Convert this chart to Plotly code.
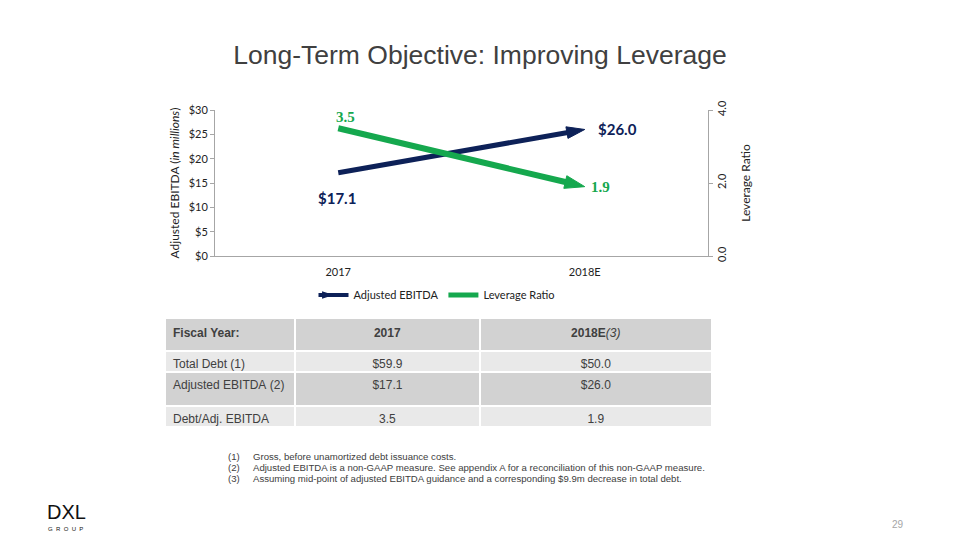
import plotly.graph_objects as go

# ---------------- data ----------------
categories = ["2017", "2018E"]
ebitda = [17.1, 26.0]
leverage = [3.5, 1.9]

table_header = ["Fiscal Year:", "2017", "2018E"]
row_labels = ["Total Debt (1)", "Adjusted EBITDA (2)", "Debt/Adj. EBITDA"]
col_2017 = ["$59.9", "$17.1", "3.5"]
col_2018 = ["$50.0", "$26.0", "1.9"]

footnote_nums = ["(1)", "(2)", "(3)"]
footnote_texts = [
    "Gross, before unamortized debt issuance costs.",
    "Adjusted EBITDA is a non-GAAP measure. See appendix A for a reconciliation of this non-GAAP measure.",
    "Assuming mid-point of adjusted EBITDA guidance and a corresponding $9.9m decrease in total debt.",
]

NAVY = "#0d2158"
GREEN = "#15a84e"
GREY_TXT = "#404040"
W, H = 960, 540

fig = go.Figure()

# main lines with arrowheads
fig.add_trace(go.Scatter(
    x=categories, y=ebitda, mode="lines+markers", yaxis="y",
    line=dict(color=NAVY, width=5),
    marker=dict(symbol=["circle", "arrow"], size=[0.1, 19], color=NAVY, opacity=1,
                angleref="previous", line=dict(width=1, color=NAVY)),
    showlegend=False, hoverinfo="skip", cliponaxis=False))
fig.add_trace(go.Scatter(
    x=categories, y=leverage, mode="lines+markers", yaxis="y2",
    line=dict(color=GREEN, width=6),
    marker=dict(symbol=["circle", "arrow"], size=[0.1, 21], color=GREEN, opacity=1,
                angleref="previous", line=dict(width=1, color=GREEN)),
    showlegend=False, hoverinfo="skip", cliponaxis=False))

# legend-only entries
fig.add_trace(go.Scatter(
    x=[None], y=[None], mode="lines+markers", name="Adjusted EBITDA",
    line=dict(color=NAVY, width=4),
    marker=dict(symbol="arrow", angle=90, size=12, color=NAVY)))
fig.add_trace(go.Scatter(
    x=[None], y=[None], mode="lines", name="Leverage Ratio",
    line=dict(color=GREEN, width=5)))

# data labels (x given as category index)
fig.add_annotation(x=0, y=ebitda[0], xref="x", yref="y",
                   text="<b>$%.1f</b>" % ebitda[0], showarrow=False,
                   yshift=-25, xshift=-1,
                   font=dict(family="Lato", size=15, color=NAVY))
fig.add_annotation(x=1, y=ebitda[1], xref="x", yref="y",
                   text="<b>$%.1f</b>" % ebitda[1], showarrow=False,
                   xshift=33, yshift=0,
                   font=dict(family="Lato", size=15, color=NAVY))
fig.add_annotation(x=0, y=leverage[0], xref="x", yref="y2",
                   text="<b>%.1f</b>" % leverage[0], showarrow=False,
                   xshift=7, yshift=11,
                   font=dict(family="Liberation Serif", size=15, color=GREEN))
fig.add_annotation(x=1, y=leverage[1], xref="x", yref="y2",
                   text="<b>%.1f</b>" % leverage[1], showarrow=False,
                   xshift=16, yshift=0,
                   font=dict(family="Liberation Serif", size=15, color=GREEN))

# table (split in two so each row keeps its own height)
light, dark = "#e9e9e9", "#d2d2d2"
tfont = dict(family="Liberation Sans", size=12, color=GREY_TXT)
aligns = ["left", "center", "center"]
cw = [130, 184, 232]
tx = [165 / W, 712 / W]
nb = lambda s: s.replace(" ", "\u00a0")

fig.add_trace(go.Table(
    domain=dict(x=tx, y=[1 - 373 / H, 1 - 318 / H]),
    columnwidth=cw,
    header=dict(
        values=["<b>%s</b>" % table_header[0], "<b>%s</b>" % table_header[1],
                "<b>%s</b><i>(3)</i>" % table_header[2]],
        fill_color=dark, line=dict(color="white", width=2),
        align=aligns, height=33, font=tfont),
    cells=dict(
        values=[[nb(row_labels[0])], [col_2017[0]], [col_2018[0]]],
        fill_color=light, line=dict(color="white", width=2),
        align=aligns, height=21, font=tfont),
))
fig.add_trace(go.Table(
    domain=dict(x=tx, y=[1 - 434 / H, 1 - 372 / H]),
    columnwidth=cw,
    header=dict(
        values=[nb(row_labels[1]), col_2017[1], col_2018[1]],
        fill_color=dark, line=dict(color="white", width=2),
        align=aligns, height=34, font=tfont),
    cells=dict(
        values=[[nb(row_labels[2])], [col_2017[2]], [col_2018[2]]],
        fill_color=light, line=dict(color="white", width=2),
        align=aligns, height=21, font=tfont),
))

# footnotes
for i, (n, t) in enumerate(zip(footnote_nums, footnote_texts)):
    yy = 1 - (456 + 11 * i) / H
    fig.add_annotation(x=226 / W, y=yy, xref="paper", yref="paper", text=n,
                       showarrow=False, xanchor="left", yanchor="middle",
                       font=dict(family="Liberation Sans", size=9.6, color=GREY_TXT))
    fig.add_annotation(x=251 / W, y=yy, xref="paper", yref="paper", text=t,
                       showarrow=False, xanchor="left", yanchor="middle",
                       font=dict(family="Liberation Sans", size=9.6, color=GREY_TXT))

# logo and page number
fig.add_annotation(x=45 / W, y=1 - 512 / H, xref="paper", yref="paper",
                   text="DXL", showarrow=False, xanchor="left", yanchor="middle",
                   font=dict(family="Liberation Sans", size=20, color="#111111"))
fig.add_annotation(x=46 / W, y=1 - 529 / H, xref="paper", yref="paper",
                   text="G  R  O  U  P", showarrow=False, xanchor="left", yanchor="middle",
                   font=dict(family="Liberation Sans", size=6, color="#111111"))
fig.add_annotation(x=898 / W, y=1 - 524 / H, xref="paper", yref="paper",
                   text="29", showarrow=False, xanchor="center", yanchor="middle",
                   font=dict(family="Liberation Sans", size=10, color="#a6a6a6"))

axis_font = dict(family="Lato", size=11, color="#222222")
title_font = dict(family="Lato", size=12, color="#222222")
fig.update_layout(
    width=W, height=H, margin=dict(l=0, r=0, t=0, b=0, autoexpand=False),
    paper_bgcolor="white", plot_bgcolor="white",
    title=dict(text="Long-Term Objective: Improving Leverage", x=0.5, xanchor="center",
               y=1 - 55 / H, yanchor="middle", yref="container",
               font=dict(family="Liberation Sans", size=26.5, color=GREY_TXT)),
    xaxis=dict(domain=[215 / W, 708 / W], type="category", showgrid=False,
               categoryorder="array", categoryarray=categories, range=[-0.5, 1.5],
               showline=True, linecolor="#a6a6a6", linewidth=1, ticks="",
               tickfont=axis_font, automargin=False, ticklabelstandoff=6),
    yaxis=dict(domain=[1 - 256 / H, 1 - 110 / H], range=[0, 30], dtick=5,
               tickprefix="$", showgrid=False, zeroline=False, showline=True,
               linecolor="#a6a6a6", ticks="outside", ticklen=4, tickcolor="#a6a6a6",
               tickfont=axis_font, automargin=False,
               title=dict(text="Adjusted EBITDA (<i>in millions</i>)", font=title_font,
                          standoff=6)),
    yaxis2=dict(overlaying="y", side="right", range=[0, 4], dtick=2,
                tickformat=".1f", showgrid=False, zeroline=False, showline=True,
                linecolor="#a6a6a6", ticks="outside", ticklen=4, tickcolor="#a6a6a6",
                tickangle=-90, tickfont=axis_font, automargin=False,
                title=dict(text="Leverage Ratio", font=title_font, standoff=14)),
    legend=dict(orientation="h", x=437 / W, xanchor="center", y=1 - 295 / H,
                yanchor="middle", font=axis_font, bgcolor="rgba(0,0,0,0)"),
)

fig.write_html("out.html", config={"displayModeBar": False},
               post_script="document.body.style.margin='0px';")
